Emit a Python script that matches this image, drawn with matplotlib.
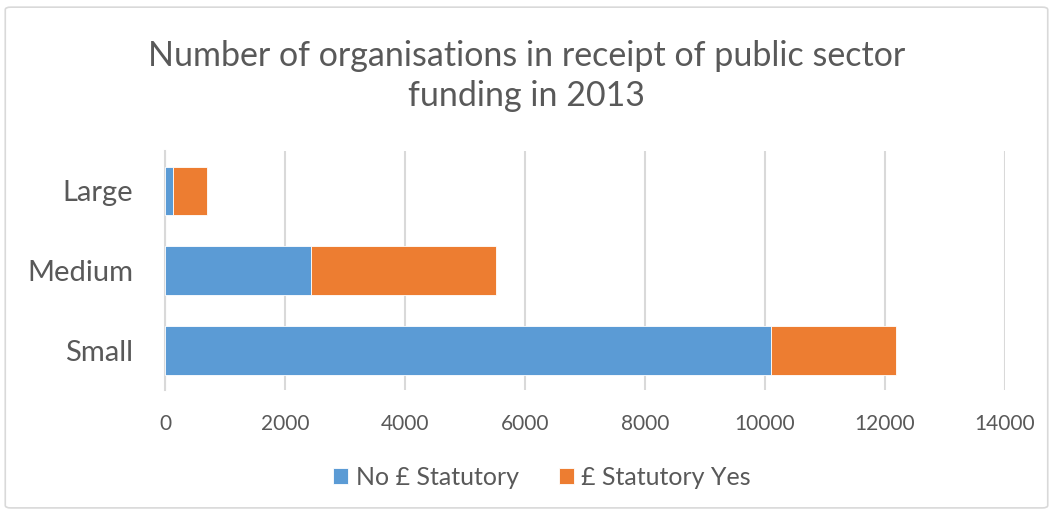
import numpy as np
import matplotlib.pyplot as plt
from matplotlib.patches import FancyBboxPatch

categories = ["Small", "Medium", "Large"]
no_statutory = [10105, 2435, 140]
statutory_yes = [2080, 3080, 555]
x_ticks = [0, 2000, 4000, 6000, 8000, 10000, 12000, 14000]

blue = "#5b9bd5"
orange = "#ed7d31"
text_grey = "#595959"

plt.rcParams['font.family'] = ['Lato', 'DejaVu Sans']

fig = plt.figure(figsize=(10.53, 5.12), dpi=100)
ax = fig.add_axes([0.1567, 0.238, 0.7977, 0.467])

# rounded frame around the whole chart
frame = FancyBboxPatch((0.005, 0.008), 0.99, 0.978, boxstyle="round,pad=0,rounding_size=0.005",
                       transform=fig.transFigure, fill=False, edgecolor="#d9d9d9", linewidth=1.2)
fig.patches.append(frame)

y = np.arange(len(categories))
ax.barh(y, no_statutory, height=0.61, color=blue, edgecolor="white", linewidth=0.6,
        label="No £ Statutory", zorder=3)
ax.barh(y, statutory_yes, left=no_statutory, height=0.61, color=orange, edgecolor="white",
        linewidth=0.6, label="£ Statutory Yes", zorder=3)

ax.set_xlim(0, 14000)
ax.set_ylim(-0.5, 2.5)
ax.set_xticks(x_ticks)
ax.set_xticklabels([str(t) for t in x_ticks], fontsize=15, color=text_grey)
ax.set_yticks(y)
ax.set_yticklabels(categories, fontsize=21, color=text_grey)
ax.tick_params(axis="both", length=0)
ax.tick_params(axis="x", pad=17)
ax.tick_params(axis="y", pad=23)
ax.grid(axis="x", color="#d9d9d9", linewidth=1.5, zorder=0)
for s in ["top", "right", "bottom"]:
    ax.spines[s].set_visible(False)
ax.spines["left"].set_color("#d9d9d9")
ax.spines["left"].set_linewidth(1.5)

fig.text(0.5, 0.852, "Number of organisations in receipt of public sector\nfunding in 2013",
         ha="center", va="center", fontsize=24.5, color=text_grey, linespacing=1.32)

fig.legend(loc="center", bbox_to_anchor=(0.515, 0.068), ncol=2, frameon=False,
           fontsize=18, labelcolor=text_grey, handlelength=0.6, handleheight=0.6,
           handletextpad=0.3, columnspacing=1.6)

fig.savefig("out.png", dpi=100, facecolor="white")
